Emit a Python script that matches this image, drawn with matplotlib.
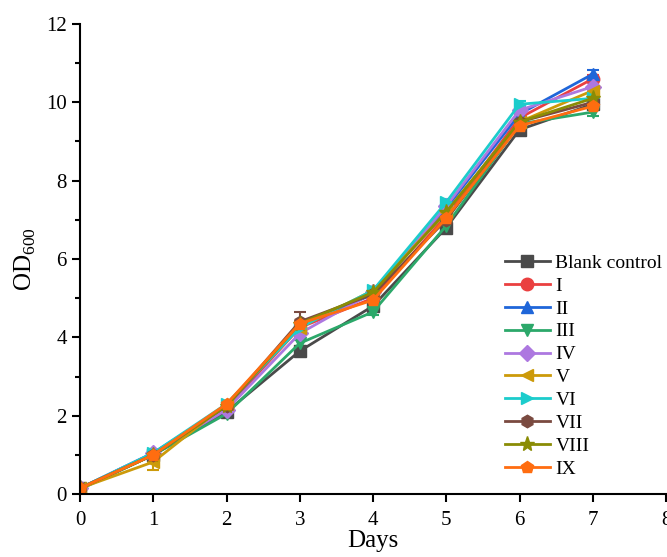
import matplotlib
matplotlib.use("Agg")
import matplotlib.pyplot as plt
from matplotlib.lines import Line2D
from matplotlib.ticker import MultipleLocator

plt.rcParams['font.family'] = ['Liberation Serif', 'DejaVu Serif']
plt.rcParams['mathtext.fontset'] = 'custom'
plt.rcParams['mathtext.rm'] = 'Liberation Serif'

days = [0, 1, 2, 3, 4, 5, 6, 7]

names = ["Blank control", "I", "II", "III", "IV", "V", "VI", "VII", "VIII", "IX"]

blank = [0.15, 1.00, 2.10, 3.65, 4.80, 6.80, 9.30, 9.95]
s1 = [0.15, 1.00, 2.20, 4.25, 5.00, 7.10, 9.60, 10.60]
s2 = [0.15, 1.05, 2.25, 4.30, 5.10, 7.30, 9.70, 10.72]
s3 = [0.12, 1.00, 2.05, 3.85, 4.65, 6.85, 9.45, 9.75]
s4 = [0.15, 1.05, 2.15, 4.10, 5.15, 7.35, 9.80, 10.40]
s5 = [0.15, 0.82, 2.30, 4.25, 5.20, 7.20, 9.50, 10.30]
s6 = [0.15, 1.05, 2.30, 4.25, 5.20, 7.45, 9.95, 10.10]
s7 = [0.15, 1.00, 2.25, 4.40, 5.10, 7.00, 9.50, 10.00]
s8 = [0.15, 1.00, 2.25, 4.35, 5.15, 7.20, 9.50, 10.10]
s9 = [0.15, 1.00, 2.30, 4.35, 4.95, 7.05, 9.40, 9.90]

e_blank = [0.03, 0.05, 0.05, 0.08, 0.08, 0.08, 0.10, 0.10]
e1 = [0.03, 0.05, 0.05, 0.08, 0.08, 0.08, 0.10, 0.10]
e2 = [0.03, 0.05, 0.05, 0.08, 0.08, 0.08, 0.10, 0.10]
e3 = [0.03, 0.05, 0.05, 0.08, 0.08, 0.08, 0.10, 0.10]
e4 = [0.03, 0.05, 0.05, 0.08, 0.08, 0.08, 0.10, 0.10]
e5 = [0.03, 0.20, 0.08, 0.08, 0.08, 0.08, 0.10, 0.10]
e6 = [0.03, 0.05, 0.05, 0.08, 0.08, 0.08, 0.08, 0.10]
e7 = [0.03, 0.05, 0.05, 0.25, 0.08, 0.08, 0.10, 0.10]
e8 = [0.03, 0.05, 0.05, 0.08, 0.08, 0.08, 0.10, 0.10]
e9 = [0.03, 0.08, 0.05, 0.08, 0.10, 0.10, 0.22, 0.10]

values = [blank, s1, s2, s3, s4, s5, s6, s7, s8, s9]
errors = [e_blank, e1, e2, e3, e4, e5, e6, e7, e8, e9]
colors = ["#4a4a4a", "#ea4040", "#1f66d9", "#2ca86a", "#ad78e0",
          "#cc9a0a", "#1ccccc", "#7a4a40", "#8a8c05", "#ff6d10"]
markers = ["s", "o", "^", "v", "D", "<", ">", "h", "*", "p"]
msizes = [8, 9, 9, 9, 8, 9, 9, 9, 11, 9]

fig = plt.figure(figsize=(6.67, 5.57), dpi=100)
ax = fig.add_axes([0.12, 0.113, 0.8785, 0.844])

handles = []
for name, y, err, c, m, ms in zip(names, values, errors, colors, markers, msizes):
    ax.errorbar(days, y, yerr=err, color=c, marker=m, markersize=ms,
                linewidth=2, elinewidth=1.5, capsize=4, capthick=1.5)
    handles.append(Line2D([], [], color=c, marker=m, markersize=ms,
                          linewidth=2, label=name))

ax.set_xlim(0, 8)
ax.set_ylim(0, 12)
ax.xaxis.set_major_locator(MultipleLocator(1))
ax.yaxis.set_major_locator(MultipleLocator(2))
ax.yaxis.set_minor_locator(MultipleLocator(1))

for side in ("top", "right"):
    ax.spines[side].set_visible(False)
for side in ("left", "bottom"):
    ax.spines[side].set_linewidth(1.5)
ax.tick_params(axis="both", which="major", direction="out", length=6,
               width=1.5, labelsize=15)
ax.tick_params(axis="x", which="major", pad=6)
ax.tick_params(axis="y", which="minor", direction="out", length=3.5, width=1.5)

ax.set_xlabel("Days", fontsize=18, labelpad=0)
ax.set_ylabel(r"OD$_{600}$", fontsize=18, labelpad=6)

ax.legend(handles=handles, loc="upper left", bbox_to_anchor=(0.725, 0.51),
          frameon=False, fontsize=14, handlelength=2.3, handletextpad=0.3,
          labelspacing=0.27, borderaxespad=0, borderpad=0)

fig.savefig("out.png", dpi=100)
